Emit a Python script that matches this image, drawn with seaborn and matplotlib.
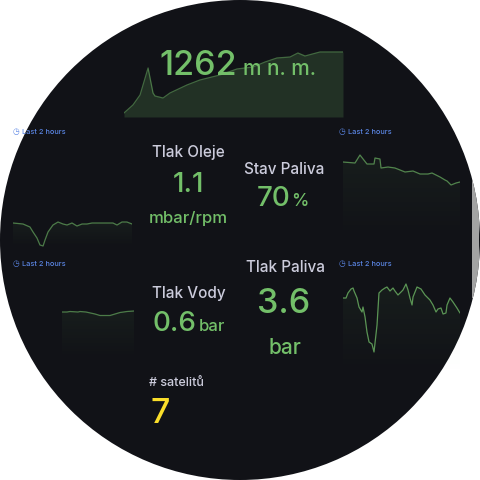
import matplotlib
matplotlib.use("Agg")
import numpy as np
import matplotlib.pyplot as plt
import seaborn as sns
from matplotlib.patches import Circle, Rectangle
from matplotlib.colors import to_rgb

sns.set_theme(style="white")
plt.rcParams['font.family'] = ['Inter', 'DejaVu Sans']

BG = "#111217"
GREEN = "#73bf69"
TITLE = "#ccccdc"
YELLOW = "#fade2a"
LINK = "#5b86e5"

# nadmorska vyska (m n. m.), posledni 2 hodiny
alt_t = [0, 4.9, 8.8, 13.2, 15.9, 17.0, 21.4, 25.2, 34.5, 41.6, 52.6, 61.9,
         70.7, 77.3, 83.8, 91.0, 95.3, 99.2, 107.4, 120]
alt_m = [1140, 1156, 1176, 1230, 1180, 1174, 1170, 1180, 1196, 1206, 1216, 1228,
         1232, 1242, 1250, 1252, 1260, 1254, 1262, 1262]

# sparklines (relativni uroven)
lt_t = [0, 10.1, 17.1, 20.2, 24.2, 27.2, 30.3, 32.3, 35.3, 40.3, 45.4, 50.4, 54.5,
        59.5, 64.5, 69.6, 74.6, 79.7, 87.7, 94.8, 100.8, 104.9, 109.9, 114.9, 120]
lt_v = [24, 23, 20, 15, 9, 2, 1, 7, 15, 22, 25, 23, 22,
        24, 21, 23, 23, 24, 24, 24, 24, 22, 25, 25, 23]

rt_t = [0, 12.3, 17.4, 24.6, 31.8, 32.8, 37.9, 39.0, 46.2, 53.3, 58.5, 63.6, 71.8,
        79.0, 87.2, 91.3, 95.4, 99.5, 104.6, 106.7, 110.8, 115.9, 120]
rt_v = [78, 77, 85, 76, 76, 82, 81, 72, 73, 72, 70, 68, 69,
        66, 66, 67, 65, 63, 60, 59, 55, 57, 58]

lb_t = [0, 8.3, 13.3, 26.7, 30, 40, 55, 63.3, 80, 88.3, 96.7, 108.3, 120]
lb_v = [48, 48, 48.5, 48, 48.5, 48, 46, 44.5, 44.5, 46, 47.5, 48.5, 49]

rb_t = [0, 3.1, 5.1, 8.2, 10.3, 11.3, 14.4, 16.4, 19.5, 20.5, 22.6, 24.6, 26.7,
        29.7, 31.8, 34.9, 36.9, 40, 43.1, 45.1, 48.2, 51.3, 53.3, 56.4, 59.5,
        61.5, 64.6, 66.7, 68.7, 70.8, 71.8, 75.9, 80, 84.1, 89.2, 92.3, 95.4,
        97.4, 100.5, 102.6, 105.6, 106.7, 109.7, 112.8, 116.9, 120]
rb_v = [77, 77, 82, 86, 87, 84, 77, 68, 63, 68, 58, 43, 33,
        31, 23, 50, 82, 85, 87, 88, 84, 87, 84, 80, 83,
        85, 91, 85, 77, 70, 78, 88, 86, 80, 75, 70, 63,
        66, 67, 61, 62, 70, 77, 73, 67, 62]

fig = plt.figure(figsize=(4.8, 4.8), dpi=100, facecolor="white")
bg = fig.add_axes([0, 0, 1, 1])
bg.set_xlim(0, 480)
bg.set_ylim(480, 0)
bg.axis("off")
disc = Circle((240, 240), 240, facecolor=BG, edgecolor="none")
bg.add_patch(disc)
strip = Rectangle((472, 180), 7, 118, facecolor="#a3a3a3", edgecolor="none")
bg.add_patch(strip)
strip.set_clip_path(disc)


def spark(box, t, v, ylim, line_alpha, fill_alpha, lw, gradient=True):
    x0, y0, x1, y1 = box
    ax = fig.add_axes([x0 / 480, 1 - y1 / 480, (x1 - x0) / 480, (y1 - y0) / 480])
    ax.set_facecolor("none")
    sns.lineplot(x=t, y=v, ax=ax, color=GREEN, alpha=line_alpha, linewidth=lw)
    if gradient:
        poly = ax.fill_between(t, v, ylim[0], color="none", lw=0)
        rgba = np.zeros((100, 1, 4))
        rgba[:, 0, :3] = to_rgb(GREEN)
        rgba[:, 0, 3] = np.linspace(fill_alpha, 0.0, 100)
        im = ax.imshow(rgba, extent=(0, 120, ylim[0], max(v)), origin="upper",
                       aspect="auto", interpolation="bilinear", zorder=1)
        path = poly.get_paths()[0]
        im.set_clip_path(path, transform=ax.transData)
    else:
        ax.fill_between(t, v, ylim[0], color=GREEN, alpha=fill_alpha, lw=0)
    ax.set_xlim(0, 120)
    ax.set_ylim(*ylim)
    ax.axis("off")
    for art in ax.lines:
        art.set_clip_path(disc)
    return ax


spark((124, 40, 343, 117), alt_t, alt_m, (1132, 1286), 0.5, 0.18, 0.9, gradient=False)
spark((13, 200, 132, 247), lt_t, lt_v, (0, 47), 0.6, 0.07, 0.9)
spark((343, 140, 460, 240), rt_t, rt_v, (0, 100), 0.65, 0.07, 0.9)
spark((62, 290, 134, 360), lb_t, lb_v, (0, 70), 0.6, 0.07, 0.9)
spark((343, 270, 460, 375), rb_t, rb_v, (0, 105), 0.75, 0.07, 0.9)

top = fig.add_axes([0, 0, 1, 1])
top.set_xlim(0, 480)
top.set_ylim(480, 0)
top.set_facecolor("none")
top.axis("off")


def txt(x, y, s, size, color, ha="center", va="baseline", weight="medium"):
    t = top.text(x, y, s, fontsize=size, color=color, ha=ha, va=va, fontweight=weight)
    t.set_clip_path(disc)
    return t


# hlavni hodnota
txt(159, 75, "1262", 24.5, GREEN, ha="left")
txt(243, 75, "m n. m.", 15, GREEN, ha="left")

# Last 2 hours
for lx, ly in [(16, 132), (342, 132), (16, 264), (342, 264)]:
    txt(lx, ly, "◷", 5.5, LINK, va="center", weight="normal")
    txt(lx + 6, ly, "Last 2 hours", 5.3, LINK, ha="left", va="center")

txt(188.5, 157, "Tlak Oleje", 11, TITLE)
txt(188.5, 192, "1.1", 20, GREEN)
txt(188.5, 223, "mbar/rpm", 12, GREEN)

txt(284.5, 174, "Stav Paliva", 11, TITLE)
txt(291, 206, "70", 20, GREEN, ha="right")
txt(291.5, 206, "%", 12.5, GREEN, ha="left")

txt(188.5, 298, "Tlak Vody", 11, TITLE)
txt(153, 331, "0.6", 20, GREEN, ha="left")
txt(199, 331, "bar", 12, GREEN, ha="left")

txt(285, 272, "Tlak Paliva", 11, TITLE)
txt(284, 313, "3.6", 24.5, GREEN)
txt(284.5, 354, "bar", 15, GREEN)

txt(149, 386, "# satelitů", 9, TITLE, ha="left")
txt(150, 423, "7", 24.5, YELLOW, ha="left")

fig.savefig("out.png", dpi=100, facecolor="white")
